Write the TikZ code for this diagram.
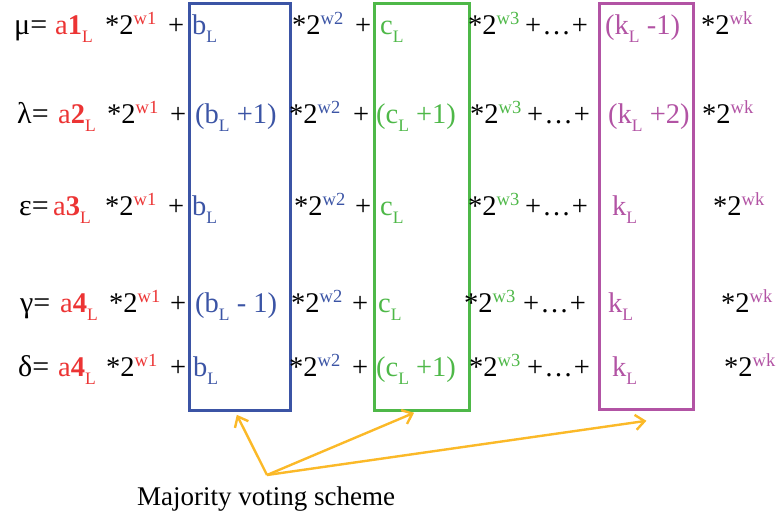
\documentclass[tikz,border=0pt]{standalone}
\usepackage{fontspec}
\setmainfont{Liberation Serif}
\usetikzlibrary{arrows.meta,calc}
\definecolor{cred}{RGB}{236,52,52}
\definecolor{cblue}{RGB}{59,84,165}
\definecolor{cgreen}{RGB}{78,184,72}
\definecolor{cmag}{RGB}{178,83,164}
\definecolor{corange}{RGB}{251,185,40}
\newcommand{\mysup}[2]{\raisebox{10pt}{\fontsize{18.5}{18}\selectfont\color{#1}#2}}
\newcommand{\mysub}[1]{\raisebox{-8pt}{\fontsize{17.5}{17}\selectfont #1}}
\newcommand{\tw}[1]{*2\mysup{#1}}
\newcommand{\gq}[1]{{\fontsize{30}{32}\selectfont #1=}}
\newcommand{\dts}{+\kern1pt…\kern1pt+}
\begin{document}
\begin{tikzpicture}[x=1pt,y=-1pt,
  txt/.style={anchor=base west,inner sep=0pt,font=\fontsize{28.5}{32}\selectfont},
  captxt/.style={anchor=base west,inner sep=0pt,font=\fontsize{27}{32}\selectfont},
  boxst/.style={line width=2.8pt,inner sep=0pt,anchor=north west},
  vote/.style={draw=corange,line width=2.4pt,-{Straight Barb[length=9pt,width=15pt,line width=2.4pt]}}]
\useasboundingbox (0,0) rectangle (781,519);

% boxes
\node[boxst,draw=cblue,minimum width=101pt,minimum height=407pt] (bbox) at (188,2) {};
\node[boxst,draw=cgreen,minimum width=95pt,minimum height=407pt] (gbox) at (373,2) {};
\node[boxst,draw=cmag,minimum width=94pt,minimum height=406pt] (mbox) at (598,2) {};

% row 1
\node[txt] (r1a) at (14,35) {\gq{μ}};
\node[txt,text=cred] (r1b) at (55,35) {a\textbf{1}\mysub{L}};
\node[txt] (r1c) at (105,35) {\tw{cred}{w1}};
\node[txt] (r1d) at (168,35) {+};
\node[txt,text=cblue] (r1e) at (192,35) {b\mysub{L}};
\node[txt] (r1f) at (292,35) {\tw{cblue}{w2}};
\node[txt] (r1g) at (355,35) {+};
\node[txt,text=cgreen] (r1h) at (380,35) {c\mysub{L}};
\node[txt] (r1i) at (468,35) {\tw{cgreen}{w3}};
\node[txt] (r1j) at (525,35) {\dts};
\node[txt,text=cmag] (r1k) at (605,35) {(k\mysub{L} -1)};
\node[txt] (r1l) at (701,35) {\tw{cmag}{wk}};

% row 2
\node[txt] (r2a) at (17,123) {\gq{λ}};
\node[txt,text=cred] (r2b) at (58,123) {a\textbf{2}\mysub{L}};
\node[txt] (r2c) at (107,123) {\tw{cred}{w1}};
\node[txt] (r2d) at (170,123) {+};
\node[txt,text=cblue] (r2e) at (195,123) {(b\mysub{L} +1)};
\node[txt] (r2f) at (289,123) {\tw{cblue}{w2}};
\node[txt] (r2g) at (353,123) {+};
\node[txt,text=cgreen] (r2h) at (376,123) {(c\mysub{L} +1)};
\node[txt] (r2i) at (470,123) {\tw{cgreen}{w3}};
\node[txt] (r2j) at (527,123) {\dts};
\node[txt,text=cmag] (r2k) at (608,123) {(k\mysub{L} +2)};
\node[txt] (r2l) at (702,123) {\tw{cmag}{wk}};

% row 3
\node[txt] (r3a) at (19,215) {\gq{ε}};
\node[txt,text=cred] (r3b) at (53,215) {a\textbf{3}\mysub{L}};
\node[txt] (r3c) at (105,215) {\tw{cred}{w1}};
\node[txt] (r3d) at (168,215) {+};
\node[txt,text=cblue] (r3e) at (192,215) {b\mysub{L}};
\node[txt] (r3f) at (294,215) {\tw{cblue}{w2}};
\node[txt] (r3g) at (355,215) {+};
\node[txt,text=cgreen] (r3h) at (380,215) {c\mysub{L}};
\node[txt] (r3i) at (468,215) {\tw{cgreen}{w3}};
\node[txt] (r3j) at (525,215) {\dts};
\node[txt,text=cmag] (r3k) at (612,215) {k\mysub{L}};
\node[txt] (r3l) at (713,215) {\tw{cmag}{wk}};

% row 4
\node[txt] (r4a) at (20,312) {\gq{γ}};
\node[txt,text=cred] (r4b) at (60,312) {a\textbf{4}\mysub{L}};
\node[txt] (r4c) at (109,312) {\tw{cred}{w1}};
\node[txt] (r4d) at (170,312) {+};
\node[txt,text=cblue] (r4e) at (195,312) {(b\mysub{L} - 1)};
\node[txt] (r4f) at (291,312) {\tw{cblue}{w2}};
\node[txt] (r4g) at (352,312) {+};
\node[txt,text=cgreen] (r4h) at (378,312) {c\mysub{L}};
\node[txt] (r4i) at (464,312) {\tw{cgreen}{w3}};
\node[txt] (r4j) at (523,312) {\dts};
\node[txt,text=cmag] (r4k) at (608,312) {k\mysub{L}};
\node[txt] (r4l) at (721,312) {\tw{cmag}{wk}};

% row 5
\node[txt] (r5a) at (18,376) {\gq{δ}};
\node[txt,text=cred] (r5b) at (58,376) {a\textbf{4}\mysub{L}};
\node[txt] (r5c) at (106,376) {\tw{cred}{w1}};
\node[txt] (r5d) at (170,376) {+};
\node[txt,text=cblue] (r5e) at (193,376) {b\mysub{L}};
\node[txt] (r5f) at (289,376) {\tw{cblue}{w2}};
\node[txt] (r5g) at (352,376) {+};
\node[txt,text=cgreen] (r5h) at (376,376) {(c\mysub{L} +1)};
\node[txt] (r5i) at (469,376) {\tw{cgreen}{w3}};
\node[txt] (r5j) at (527,376) {\dts};
\node[txt,text=cmag] (r5k) at (612,376) {k\mysub{L}};
\node[txt] (r5l) at (724,376) {\tw{cmag}{wk}};

% caption and arrows
\node[captxt] (cap) at (137,505) {Majority voting scheme};
\coordinate (src) at (267,475);
\coordinate (tb) at ([yshift=-3pt]$(bbox.south west)!0.47!(bbox.south east)$);
\coordinate (tg) at ([yshift=-1pt]$(gbox.south west)!0.42!(gbox.south east)$);
\coordinate (tm) at ([yshift=-10pt]$(mbox.south west)!0.5!(mbox.south east)$);
\draw[vote] (src) -- (tb);
\draw[vote] (src) -- (tg);
\draw[vote] (src) -- (tm);
\end{tikzpicture}
\end{document}
